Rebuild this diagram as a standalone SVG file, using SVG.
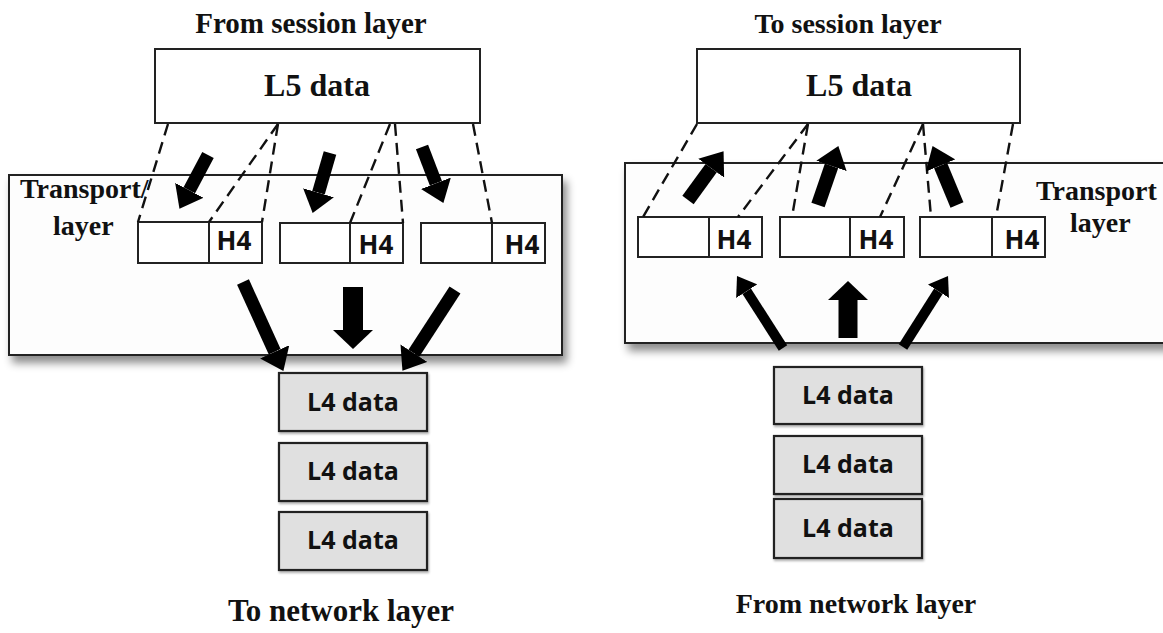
<svg xmlns="http://www.w3.org/2000/svg" width="1163" height="633" viewBox="0 0 1163 633">
<defs>
  <filter id="shadow" x="-5%" y="-10%" width="115%" height="130%">
    <feDropShadow dx="4" dy="7" stdDeviation="4" flood-color="#000" flood-opacity="0.45"/>
  </filter>
  <filter id="smallshadow" x="-5%" y="-10%" width="115%" height="130%">
    <feDropShadow dx="1" dy="2" stdDeviation="1" flood-color="#000" flood-opacity="0.3"/>
  </filter>
  <marker id="hA" viewBox="0 0 21 32" refX="0" refY="16" markerWidth="21" markerHeight="32" markerUnits="userSpaceOnUse" orient="auto">
    <path d="M0,0 L21,16 L0,32 Z" fill="#000"/>
  </marker>
  <marker id="hB" viewBox="0 0 19 40" refX="0" refY="20" markerWidth="19" markerHeight="40" markerUnits="userSpaceOnUse" orient="auto">
    <path d="M0,0 L19,20 L0,40 Z" fill="#000"/>
  </marker>
  <marker id="hC" viewBox="0 0 18 25" refX="0" refY="12.5" markerWidth="18" markerHeight="25" markerUnits="userSpaceOnUse" orient="auto">
    <path d="M0,0 L18,12.5 L0,25 Z" fill="#000"/>
  </marker>
</defs>
<style>
  .serif { font-family: "Liberation Serif", "Times New Roman", serif; font-weight: bold; fill: #111; }
  .sans { font-family: "Open Sans", "Liberation Sans", Arial, sans-serif; font-weight: bold; fill: #111; }
  .layer { fill: #fdfdfd; stroke: #222; stroke-width: 2; }
  .box { fill: #fff; stroke: #222; stroke-width: 2; }
  .seg { fill: #fff; stroke: #222; stroke-width: 2; }
  .l4 { fill: #e0e0e0; stroke: #222; stroke-width: 2.2; }
  .dash { stroke: #111; stroke-width: 2.4; stroke-dasharray: 12 7; fill: none; }
  .arr { stroke: #000; fill: none; stroke-linecap: butt; }
</style>

<rect width="1163" height="633" fill="#fff"/>

<!-- LEFT SIDE -->
<g id="left-transport-layer">
  <rect class="layer" x="9" y="175" width="553" height="180" filter="url(#shadow)"/>
  <text class="serif" x="20" y="198" font-size="28">Transport/</text>
  <text class="serif" x="53" y="235" font-size="28">layer</text>
</g>

<g id="left-title">
  <text class="serif" x="311" y="33" font-size="29" text-anchor="middle">From session layer</text>
</g>

<g id="left-l5">
  <rect class="box" x="155" y="49" width="325" height="74"/>
  <text class="serif" x="317" y="96" font-size="32" text-anchor="middle">L5 data</text>
</g>

<g id="left-seg1">
  <rect class="seg" x="138" y="222" width="124" height="41"/>
  <line x1="209" y1="222" x2="209" y2="263" stroke="#222" stroke-width="2"/>
  <text class="sans" x="234" y="250" font-size="26" text-anchor="middle">H4</text>
</g>
<g id="left-seg2">
  <rect class="seg" x="280" y="223" width="123" height="40"/>
  <line x1="350" y1="223" x2="350" y2="263" stroke="#222" stroke-width="2"/>
  <text class="sans" x="376" y="254" font-size="26" text-anchor="middle">H4</text>
</g>
<g id="left-seg3">
  <rect class="seg" x="421" y="223" width="124" height="40"/>
  <line x1="492" y1="223" x2="492" y2="263" stroke="#222" stroke-width="2"/>
  <text class="sans" x="522" y="254" font-size="26" text-anchor="middle">H4</text>
</g>

<g id="left-l4-1">
  <rect class="l4" x="279" y="373" width="148" height="58" filter="url(#smallshadow)"/>
  <text class="sans" x="353" y="411" font-size="25" text-anchor="middle">L4 data</text>
</g>
<g id="left-l4-2">
  <rect class="l4" x="279" y="443" width="148" height="58" filter="url(#smallshadow)"/>
  <text class="sans" x="353" y="480" font-size="25" text-anchor="middle">L4 data</text>
</g>
<g id="left-l4-3">
  <rect class="l4" x="279" y="512" width="148" height="58" filter="url(#smallshadow)"/>
  <text class="sans" x="353" y="549" font-size="25" text-anchor="middle">L4 data</text>
</g>

<g id="left-bottom-title">
  <text class="serif" x="341" y="621" font-size="31" text-anchor="middle">To network layer</text>
</g>

<!-- RIGHT SIDE -->
<g id="right-transport-layer">
  <rect class="layer" x="625" y="163" width="560" height="180" filter="url(#shadow)"/>
  <text class="serif" x="1036" y="200" font-size="28">Transport</text>
  <text class="serif" x="1070" y="232" font-size="28">layer</text>
</g>

<g id="right-title">
  <text class="serif" x="848" y="33" font-size="28" text-anchor="middle">To session layer</text>
</g>

<g id="right-l5">
  <rect class="box" x="697" y="49" width="323" height="74"/>
  <text class="serif" x="859" y="96" font-size="32" text-anchor="middle">L5 data</text>
</g>

<g id="right-seg1">
  <rect class="seg" x="638" y="217" width="124" height="40"/>
  <line x1="709" y1="217" x2="709" y2="257" stroke="#222" stroke-width="2"/>
  <text class="sans" x="734" y="249" font-size="26" text-anchor="middle">H4</text>
</g>
<g id="right-seg2">
  <rect class="seg" x="780" y="217" width="124" height="40"/>
  <line x1="850" y1="217" x2="850" y2="257" stroke="#222" stroke-width="2"/>
  <text class="sans" x="876" y="249" font-size="26" text-anchor="middle">H4</text>
</g>
<g id="right-seg3">
  <rect class="seg" x="920" y="217" width="125" height="40"/>
  <line x1="992" y1="217" x2="992" y2="257" stroke="#222" stroke-width="2"/>
  <text class="sans" x="1022" y="249" font-size="26" text-anchor="middle">H4</text>
</g>

<g id="right-l4-1">
  <rect class="l4" x="774" y="367" width="148" height="57" filter="url(#smallshadow)"/>
  <text class="sans" x="848" y="404" font-size="25" text-anchor="middle">L4 data</text>
</g>
<g id="right-l4-2">
  <rect class="l4" x="774" y="436" width="148" height="58" filter="url(#smallshadow)"/>
  <text class="sans" x="848" y="473" font-size="25" text-anchor="middle">L4 data</text>
</g>
<g id="right-l4-3">
  <rect class="l4" x="774" y="499" width="148" height="59" filter="url(#smallshadow)"/>
  <text class="sans" x="848" y="537" font-size="25" text-anchor="middle">L4 data</text>
</g>

<g id="right-bottom-title">
  <text class="serif" x="856" y="613" font-size="28" text-anchor="middle">From network layer</text>
</g>

<!-- CONNECTORS -->
<g id="connectors">
  <!-- left dashed mapping lines -->
  <line class="dash" x1="168" y1="124" x2="138" y2="222"/>
  <line class="dash" x1="278" y1="124" x2="209" y2="222"/>
  <line class="dash" x1="278" y1="124" x2="262" y2="222"/>
  <line class="dash" x1="390" y1="124" x2="350" y2="223"/>
  <line class="dash" x1="395" y1="124" x2="403" y2="223"/>
  <line class="dash" x1="473" y1="124" x2="492" y2="223"/>
  <!-- right dashed mapping lines -->
  <line class="dash" x1="697" y1="124" x2="643" y2="217"/>
  <line class="dash" x1="808" y1="124" x2="738" y2="217"/>
  <line class="dash" x1="808" y1="124" x2="792" y2="217"/>
  <line class="dash" x1="923" y1="124" x2="880" y2="217"/>
  <line class="dash" x1="923" y1="124" x2="931" y2="217"/>
  <line class="dash" x1="1013" y1="124" x2="996" y2="217"/>

  <!-- left arrows -->
  <line class="arr" stroke-width="13" x1="208" y1="155" x2="189.3" y2="190.3" marker-end="url(#hA)"/>
  <line class="arr" stroke-width="13" x1="330" y1="153" x2="318.5" y2="192.8" marker-end="url(#hA)"/>
  <line class="arr" stroke-width="13" x1="422" y1="147" x2="435.9" y2="183.3" marker-end="url(#hA)"/>
  <line class="arr" stroke-width="13" x1="243" y1="282" x2="274.7" y2="351.8" marker-end="url(#hA)"/>
  <line class="arr" stroke-width="20" x1="353" y1="287" x2="353" y2="330" marker-end="url(#hB)"/>
  <line class="arr" stroke-width="13" x1="455" y1="290" x2="413.9" y2="353.2" marker-end="url(#hA)"/>

  <!-- right arrows -->
  <line class="arr" stroke-width="14" x1="688" y1="200" x2="711.2" y2="168.2" marker-end="url(#hA)"/>
  <line class="arr" stroke-width="14" x1="818" y1="205" x2="831.5" y2="165.9" marker-end="url(#hA)"/>
  <line class="arr" stroke-width="14" x1="957" y1="205" x2="940.6" y2="165.5" marker-end="url(#hA)"/>
  <line class="arr" stroke-width="10" x1="783" y1="348" x2="746.7" y2="291.2" marker-end="url(#hC)"/>
  <line class="arr" stroke-width="19" x1="848" y1="338" x2="848" y2="300" marker-end="url(#hB)"/>
  <line class="arr" stroke-width="10" x1="903" y1="347" x2="938.4" y2="291.2" marker-end="url(#hC)"/>
</g>
</svg>
